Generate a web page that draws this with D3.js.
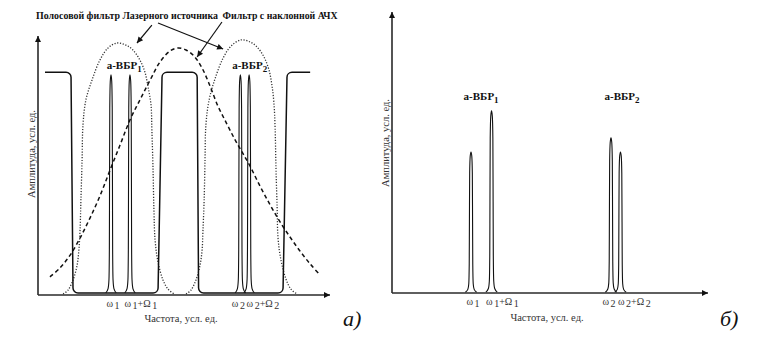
<!DOCTYPE html>
<html>
<head>
<meta charset="utf-8">
<script src="https://cdn.jsdelivr.net/npm/d3@7"></script>
<style>
  body { margin: 0; background: #fff; }
  svg { display: block; font-family: "Liberation Serif", "DejaVu Serif", "Times New Roman", serif; }
</style>
</head>
<body>
<svg id="chart" width="769" height="347"></svg>
<script>
// ---- data (frequency and amplitude in arbitrary units, 0–100 along each axis) ----

// reflection peaks of the two gratings: ω1, ω1+Ω1, ω2, ω2+Ω2
const peakFreq = [25, 31.5, 69.3, 72.3];
const peakLabels = [
  [["ω", 0], ["1", 1]],
  [["ω", 0], ["1", 1], ["+Ω", 0], ["1", 1]],
  [["ω", 0], ["2", 1]],
  [["ω", 0], ["2", 1], ["+Ω", 0], ["2", 1]]
];
// amplitude of each peak after the comb filter (panel а) and in the reflected spectrum (panel б)
const peakAmpA = [85, 85, 85, 85];
const peakAmpB = [50.2, 64.8, 55.2, 50.2];
// line shape of a single peak: [offset in frequency, fraction of peak height]
const peakProfile = [
  [-1.8, 0], [-1.0, 0.02], [-0.7, 0.06], [-0.56, 0.2], [-0.5, 0.5], [-0.42, 0.85], [-0.25, 0.97], [0, 1],
  [0.25, 0.97], [0.42, 0.85], [0.5, 0.5], [0.56, 0.2], [0.7, 0.06], [1.0, 0.02], [1.8, 0]
];
const gratingNames = ["1", "2"];

// comb (laser source) pass bands: [rise bottom, rise top, fall top, fall bottom]
const passBands = [
  [2.4, 2.4, 11.3, 12.0],
  [41.1, 42.5, 54.5, 55.0],
  [85.3, 85.3, 93.2, 93.2]
];
const combRiseBottom = 83.9;   // foot of the last band's rising edge
const passLevel = 86;
const stopLevel = 0.8;

// band-pass filter of the laser source: two bell-shaped windows [freq, amplitude]
const laserBand1 = [
  [8.6, 0.4], [10.3, 1.9], [12.0, 5.8], [13.4, 11.6], [14.0, 17.4], [14.4, 25.1], [14.7, 36.7],
  [15.1, 52.1], [15.4, 65.6], [16.4, 75.3], [18.5, 83.0], [21.2, 90.7], [24.0, 95.4], [27.1, 97.3],
  [30.1, 96.5], [32.5, 94.6], [34.9, 90.7], [36.6, 86.1], [37.7, 80.3], [38.7, 73.4], [39.0, 63.7],
  [39.4, 48.3], [39.7, 32.8], [40.1, 21.2], [41.1, 12.7], [42.8, 5.8], [44.5, 2.3], [46.6, 0.4]
];
const laserBand2 = [
  [50.7, 0.4], [52.4, 1.9], [54.1, 5.8], [55.5, 11.6], [56.2, 17.4], [56.5, 25.1], [56.9, 36.7],
  [57.2, 52.1], [57.5, 65.6], [58.6, 75.3], [60.6, 83.4], [63.4, 91.5], [66.1, 96.1], [69.5, 98.5],
  [72.6, 97.7], [75.0, 95.8], [77.4, 91.9], [79.1, 86.9], [80.1, 81.1], [80.8, 74.1], [81.2, 64.5],
  [81.5, 49.0], [81.9, 33.6], [82.2, 22.0], [83.2, 13.5], [84.9, 6.2], [86.6, 2.3], [88.7, 0.4]
];
// filter with sloped frequency response
const slopedFilter = [
  [4.1, 7.0], [7.5, 10.4], [11.0, 15.4], [14.4, 22.0], [17.8, 29.7], [21.2, 38.2], [24.7, 48.3],
  [28.1, 57.9], [31.5, 67.6], [34.9, 75.3], [38.4, 83.0], [41.8, 90.0], [45.2, 94.2], [48.0, 95.4],
  [50.7, 94.6], [53.4, 92.3], [56.2, 87.6], [58.9, 80.7], [61.6, 73.0], [64.7, 66.0], [67.5, 59.9],
  [69.9, 55.2], [72.6, 49.8], [76.0, 42.1], [79.5, 34.8], [82.9, 28.2], [86.3, 22.4], [89.7, 17.0],
  [93.2, 12.0], [96.6, 7.7]
];

// ---- layout ----
const svg = d3.select("#chart");
const ink = "#111";
const axisInk = "#2a2a2a";
const serif = "'Liberation Serif', 'DejaVu Serif', 'Times New Roman', serif";

const defs = svg.append("defs");
defs.append("marker")
  .attr("id", "arrow")
  .attr("viewBox", "0 0 10 10")
  .attr("refX", 10).attr("refY", 5)
  .attr("markerWidth", 8).attr("markerHeight", 6)
  .attr("markerUnits", "userSpaceOnUse")
  .attr("orient", "auto")
  .append("path").attr("d", "M0,0L10,5L0,10Z").attr("fill", ink);

const panels = [
  { key: "a", left: 38, right: 330, bottom: 295, top: 36, amps: peakAmpA, base: stopLevel,
    letter: "а)", letterX: 343, letterY: 326, yLabelX: 31, yLabelY: 154,
    gratingX: [29.5, 72.5], gratingY: 69, xTitleY: 322 },
  { key: "b", left: 392, right: 708, bottom: 293, top: 12, amps: peakAmpB, base: 0.3,
    letter: "б)", letterX: 720, letterY: 326, yLabelX: 385, yLabelY: 143,
    gratingX: [28.2, 72.8], gratingY: 100, xTitleY: 321 }
];
// start offsets (px) of the tick labels relative to their peaks
const tickLabelShift = [-5, -6, -9, -3];

panels.forEach(p => {
  const x = d3.scaleLinear().domain([0, 100]).range([p.left, p.right]);
  const y = d3.scaleLinear().domain([0, 100]).range([p.bottom, p.top]);
  const g = svg.append("g").attr("class", "panel-" + p.key).style("font-family", serif);

  if (p.key === "a") {
    const curve = d3.line().x(d => x(d[0])).y(d => y(d[1])).curve(d3.curveCatmullRom.alpha(0.5));

    // laser source band-pass windows (dotted)
    [laserBand1, laserBand2].forEach(b => {
      g.append("path").attr("d", curve(b))
        .attr("fill", "none").attr("stroke", "#333").attr("stroke-width", 1.3)
        .attr("stroke-dasharray", "1.2 1.6");
    });

    // sloped-response filter (dashed)
    g.append("path").attr("d", curve(slopedFilter))
      .attr("fill", "none").attr("stroke", ink).attr("stroke-width", 1.5)
      .attr("stroke-dasharray", "4 3");

    // comb transmission with rounded band corners
    const r = 5;
    const path = d3.path();
    const hi = y(passLevel), lo = y(stopLevel);
    const b0 = passBands[0], b1 = passBands[1], b2 = passBands[2];
    path.moveTo(x(b0[0]), hi);
    path.arcTo(x(b0[2]), hi, x(b0[3]), lo, r);
    path.arcTo(x(b0[3]), lo, x(b1[0]), lo, r);
    path.arcTo(x(b1[0]), lo, x(b1[1]), hi, r);
    path.arcTo(x(b1[1]), hi, x(b1[2]), hi, r);
    path.arcTo(x(b1[2]), hi, x(b1[3]), lo, r);
    path.arcTo(x(b1[3]), lo, x(combRiseBottom), lo, r);
    path.arcTo(x(combRiseBottom), lo, x(b2[1]), hi, r);
    path.arcTo(x(b2[1]), hi, x(b2[2]), hi, r);
    path.lineTo(x(b2[2]), hi);
    g.append("path").attr("d", path.toString())
      .attr("fill", "none").attr("stroke", ink).attr("stroke-width", 1.5);
  }

  // grating reflection peaks
  const peakLine = d3.line().curve(d3.curveMonotoneX);
  peakFreq.forEach((f, i) => {
    const amp = p.amps[i];
    const pts = peakProfile.map(d => [x(f + d[0]), y(p.base + d[1] * (amp - p.base))]);
    g.append("path").attr("d", peakLine(pts))
      .attr("fill", "none").attr("stroke", ink).attr("stroke-width", 1.1);
  });

  // axes with arrowheads
  g.append("line").attr("x1", p.left).attr("y1", p.bottom).attr("x2", p.left).attr("y2", p.top)
    .attr("stroke", axisInk).attr("stroke-width", 1.6).attr("marker-end", "url(#arrow)");
  g.append("line").attr("x1", p.left).attr("y1", p.bottom).attr("x2", p.right).attr("y2", p.bottom)
    .attr("stroke", axisInk).attr("stroke-width", 1.6).attr("marker-end", "url(#arrow)");

  // tick labels under the peaks
  const axis = g.append("g").attr("transform", `translate(0,${p.bottom})`)
    .call(d3.axisBottom(x).tickValues(peakFreq).tickSize(0).tickFormat(""));
  axis.select(".domain").remove();
  axis.selectAll(".tick").each(function (d, i) {
    const t = d3.select(this).append("text")
      .attr("x", tickLabelShift[i]).attr("y", 12)
      .attr("text-anchor", "start").attr("fill", "#333")
      .style("font-size", "10px").style("font-family", serif);
    peakLabels[i].forEach(([s, isIndex], k) => {
      const ts = t.append("tspan").text(s);
      if (isIndex) ts.attr("dx", 1.5).attr("dy", 1.5);
      else if (k > 0) ts.attr("dy", -1.5);
    });
  });

  // axis titles
  g.append("text").attr("x", (p.left + p.right) / 2 - 3).attr("y", p.xTitleY)
    .attr("text-anchor", "middle").attr("fill", "#333")
    .style("font-size", "10.5px").text("Частота, усл. ед.");
  g.append("text")
    .attr("transform", `translate(${p.yLabelX},${p.yLabelY}) rotate(-90)`)
    .attr("text-anchor", "middle").attr("dy", "0.35em").attr("fill", "#333")
    .style("font-size", "10.5px").text("Амплитуда, усл. ед.");

  // grating names
  p.gratingX.forEach((gx, i) => {
    const t = g.append("text").attr("x", x(gx)).attr("y", p.gratingY)
      .attr("text-anchor", "middle").attr("fill", ink)
      .style("font-size", "11px").style("font-weight", "bold");
    t.append("tspan").text("а-ВБР");
    t.append("tspan").attr("dy", 3).style("font-size", "9px").text(gratingNames[i]);
  });

  // panel letter
  g.append("text").attr("x", p.letterX).attr("y", p.letterY)
    .attr("fill", ink).style("font-size", "22px").style("font-style", "italic")
    .text(p.letter);

  if (p.key === "a") {
    // callouts naming the two filters
    const notes = [
      { text: "Полосовой фильтр Лазерного источника", fx: 30.5, len: 182 },
      { text: "Фильтр с наклонной АЧХ", fx: 82.9, len: 115 }
    ];
    notes.forEach(n => {
      g.append("text").attr("x", x(n.fx)).attr("y", 19)
        .attr("text-anchor", "middle").attr("fill", ink)
        .attr("textLength", n.len).attr("lengthAdjust", "spacingAndGlyphs")
        .style("font-size", "10px").style("font-weight", "bold").text(n.text);
    });
    const pointers = [
      [[39.0, 104.2], [33.9, 97.3]],
      [[41.1, 105.0], [63.4, 95.0]],
      [[63.0, 105.4], [54.5, 91.9]]
    ];
    pointers.forEach(([a, b]) => {
      g.append("line")
        .attr("x1", x(a[0])).attr("y1", y(a[1]))
        .attr("x2", x(b[0])).attr("y2", y(b[1]))
        .attr("stroke", ink).attr("stroke-width", 1.2)
        .attr("marker-end", "url(#arrow)");
    });
  }
});
</script>
</body>
</html>
